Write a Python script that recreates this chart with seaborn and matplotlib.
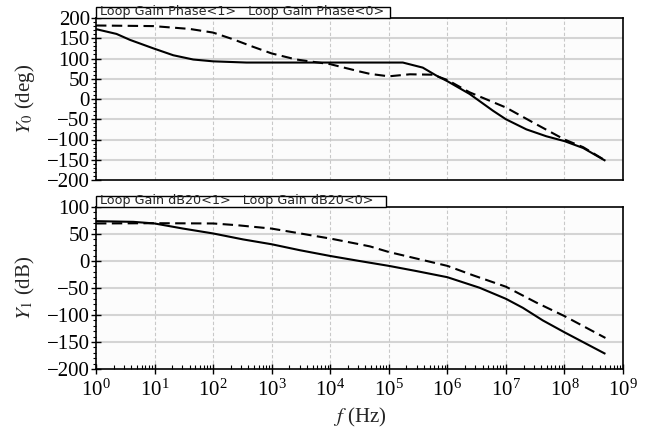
import numpy as np
import pandas as pd
import matplotlib
matplotlib.use("Agg")
import matplotlib.pyplot as plt
import matplotlib.ticker as mticker
from matplotlib.patches import Rectangle
import seaborn as sns

# ---- data (log10 of frequency in Hz, values) ----
phase1_logf = [0, 0.35, 0.58, 0.98, 1.32, 1.66, 2.0, 2.57, 3.5, 4.5, 5.24, 5.58, 5.81,
               6.0, 6.38, 6.78, 7.0, 7.35, 7.69, 8.0, 8.32, 8.70]
phase1_val = [172.5, 160.7, 146, 125, 108, 97.5, 93, 90, 90, 90, 90, 77.5, 58,
              44, 12.5, -29, -50, -75, -92, -104, -121, -152.5]

phase0_logf = [0, 0.98, 1.6, 2.0, 2.34, 2.68, 3.0, 3.42, 4.0, 4.5, 4.68, 5.0, 5.36,
               5.75, 6.0, 6.38, 7.0, 7.52, 8.0, 8.32, 8.70]
phase0_val = [181.5, 180, 173, 164, 147.5, 129, 112.5, 97.5, 86, 68, 62, 56, 61,
              60, 47, 16.5, -21, -62.5, -100, -119, -152]

db1_logf = [0, 0.64, 1.0, 1.49, 2.0, 2.51, 3.0, 3.48, 4.0, 4.5, 5.0, 5.47, 6.0,
            6.55, 7.0, 7.29, 7.63, 8.0, 8.7]
db1_val = [73.8, 72.5, 69.5, 60, 51, 40, 31, 20, 9.3, 0, -9, -18.6, -30,
           -49.5, -70, -86.7, -110, -132, -172]

db0_logf = [0, 1.0, 2.0, 2.4, 3.0, 4.0, 4.5, 4.68, 5.0, 6.0, 6.44, 7.0, 7.52, 8.0, 8.7]
db0_val = [69.5, 70, 69.5, 66.4, 60, 41.6, 31, 27, 16.7, -9, -26.5, -47.6, -77, -102, -142.5]

phase_labels = ["Loop Gain Phase<1>", "Loop Gain Phase<0>"]
db_labels = ["Loop Gain dB20<1>", "Loop Gain dB20<0>"]


def frame(logf, val, name):
    return pd.DataFrame({"f": np.power(10.0, logf), "v": val, "s": name})


df_phase = pd.concat([frame(phase1_logf, phase1_val, phase_labels[0]),
                      frame(phase0_logf, phase0_val, phase_labels[1])], ignore_index=True)
df_db = pd.concat([frame(db1_logf, db1_val, db_labels[0]),
                   frame(db0_logf, db0_val, db_labels[1])], ignore_index=True)

sns.set_theme(style="white")
plt.rcParams["font.family"] = ["Liberation Serif", "DejaVu Serif"]
plt.rcParams["mathtext.fontset"] = "stix"
plt.rcParams["axes.edgecolor"] = "black"
plt.rcParams["axes.linewidth"] = 1.2

fig = plt.figure(figsize=(6.47, 4.37), dpi=100)
W, H = 647, 437
left, right = 96 / W, 623 / W
ax1 = fig.add_axes([left, 1 - 180 / H, right - left, 162 / H])
ax2 = fig.add_axes([left, 1 - 369 / H, right - left, 162 / H])

for ax, df, labels, ylim, ylab, tabw in [
        (ax1, df_phase, phase_labels, (-200, 200), r"$Y_{\mathrm{0}}$ (deg)", (390 - 96) / 527),
        (ax2, df_db, db_labels, (-200, 100), r"$Y_{\mathrm{1}}$ (dB)", (386 - 96) / 527)]:
    ax.set_facecolor("#fcfcfc")
    sns.lineplot(data=df, x="f", y="v", hue="s", style="s",
                 palette=["black", "black"], dashes=[(1, 0), (5, 2.6)],
                 linewidth=1.5, ax=ax, legend=False, sort=False, estimator=None)
    ax.set_xscale("log")
    ax.set_xlim(1, 1e9)
    ax.set_ylim(*ylim)
    ax.yaxis.set_major_locator(mticker.MultipleLocator(50))
    ax.yaxis.set_minor_locator(mticker.MultipleLocator(10))
    ax.xaxis.set_major_locator(mticker.LogLocator(base=10, numticks=20))
    ax.xaxis.set_minor_locator(mticker.LogLocator(base=10, subs=np.arange(2, 10), numticks=20))
    ax.grid(False)
    for yv in np.arange(ylim[0] + 50, ylim[1], 50):
        ax.axhline(yv, color="#d4d4d4", lw=1.5, zorder=0)
    for e in range(1, 9):
        ax.axvline(10.0 ** e, color="#c8c8c8", lw=0.8, ls=(0, (3, 2)), zorder=0)
    ax.tick_params(axis="y", which="major", left=True, direction="inout", length=7, width=1,
                   labelsize=15, pad=1, colors="black")
    ax.tick_params(axis="y", which="minor", left=True, direction="out", length=2.5, width=0.8,
                   colors="black")
    ax.set_ylabel(ylab, fontsize=15)
    ax.yaxis.set_label_coords(-0.112, 0.5)
    ax.set_xlabel("")
    for sp in ax.spines.values():
        sp.set_visible(True)
        sp.set_color("black")
    # legend tab
    ax.add_patch(Rectangle((0, 1), tabw, 10.5 / 162, transform=ax.transAxes,
                           facecolor="white", edgecolor="black", lw=1.0,
                           clip_on=False, zorder=5))
    ax.text(0.008, 1.002, labels[0] + "   " + labels[1], transform=ax.transAxes,
            fontsize=9.2, family="DejaVu Sans", va="bottom", ha="left", zorder=6)

ax1.tick_params(axis="x", which="both", bottom=False, labelbottom=False)
ax2.tick_params(axis="x", which="major", bottom=True, direction="inout", length=7, width=1,
                labelsize=15, pad=4, colors="black")
ax2.tick_params(axis="x", which="minor", bottom=True, direction="in", length=3, width=0.8,
                colors="black")
ax2.set_xlabel(r"$f$ (Hz)", fontsize=15, labelpad=4)

fig.savefig("out.png", dpi=100, facecolor="white")
